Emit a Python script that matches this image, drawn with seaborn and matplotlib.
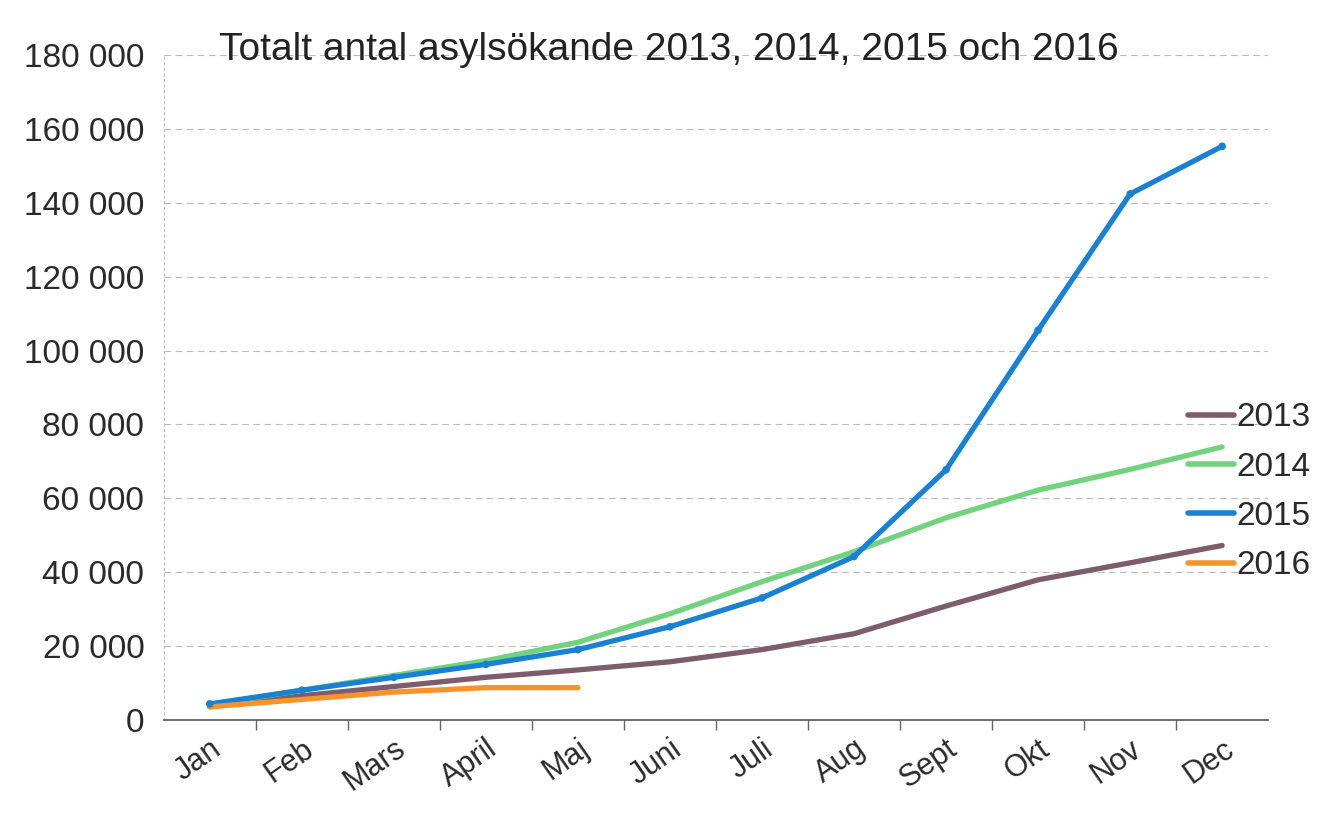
import numpy as np
import pandas as pd
import matplotlib
matplotlib.use("Agg")
import matplotlib.pyplot as plt
import seaborn as sns
from matplotlib.ticker import FuncFormatter, FixedLocator

months = ["Jan", "Feb", "Mars", "April", "Maj", "Juni", "Juli", "Aug", "Sept", "Okt", "Nov", "Dec"]
y2013 = [3500, 6500, 9000, 11500, 13500, 15700, 19000, 23300, 30800, 37900, 42500, 47200]
y2014 = [4000, 8000, 12000, 16000, 21000, 28700, 37400, 45500, 54700, 62200, 67800, 73900]
y2015 = [4300, 8000, 11500, 15000, 19000, 25200, 33000, 44200, 67700, 105500, 142400, 155300]
y2016 = [3500, 5500, 7500, 8700, 8700]
years = ["2013", "2014", "2015", "2016"]
colors = ["#7d5c6c", "#72d27e", "#1a80d2", "#f7932c"]

rows = []
for yr, vals in zip(years, [y2013, y2014, y2015, y2016]):
    for i, v in enumerate(vals):
        rows.append({"Månad": i, "Antal": v, "År": yr})
df = pd.DataFrame(rows)

sns.set_theme(style="white")
plt.rcParams['font.family'] = ['Liberation Sans', 'DejaVu Sans']

fig = plt.figure(figsize=(13.21, 8.35), dpi=100)
ax = fig.add_axes([0.124, 0.138, 0.836, 0.796])

sns.lineplot(data=df, x="Månad", y="Antal", hue="År", palette=dict(zip(years, colors)),
             linewidth=3.8, ax=ax, legend=False, sort=False)
d15 = df[df["År"] == "2015"]
sns.scatterplot(data=d15, x="Månad", y="Antal", color=colors[2], s=30, ax=ax, legend=False, zorder=5, edgecolor="none")

ax.set_xlim(-0.5, 11.5)
ax.set_ylim(0, 180000)
ax.set_yticks(np.arange(0, 180001, 20000))
ax.yaxis.set_major_formatter(FuncFormatter(lambda v, p: f"{int(v):,}".replace(",", "\u00a0")))
ax.set_xticks(range(12))
ax.set_xticklabels(months, rotation=35, ha="right", rotation_mode="anchor")
ax.xaxis.set_minor_locator(FixedLocator(np.arange(0.5, 11.5, 1)))
ax.tick_params(axis="x", which="major", length=0, labelsize=22, pad=10, colors="#2a2a2a")
ax.tick_params(axis="x", which="minor", length=7, width=1, color="#666666", bottom=True)
ax.tick_params(axis="y", labelsize=24, length=0, pad=14, colors="#2a2a2a")
ax.set_xlabel("")
ax.set_ylabel("")

ax.grid(axis="y", color="#bbbbbb", linestyle=(0, (6, 4)), linewidth=0.8)
for s in ["top", "right"]:
    ax.spines[s].set_visible(False)
ax.spines["left"].set_color("#bbbbbb")
ax.spines["left"].set_linestyle((0, (2, 3)))
ax.spines["left"].set_linewidth(0.8)
ax.spines["bottom"].set_color("#555555")
ax.spines["bottom"].set_linewidth(1.2)

ax.set_title("Totalt antal asylsökande 2013, 2014, 2015 och 2016", loc="left",
             fontsize=28, x=0.05, y=0.98, color="#222222")

handles = [plt.Line2D([0], [0], color=c, lw=4) for c in colors]
leg = ax.legend(handles, years, loc="center left", bbox_to_anchor=(0.915, 0.343),
                frameon=False, fontsize=24, handlelength=1.4, handletextpad=0.05,
                labelspacing=0.55, borderaxespad=0)
for t in leg.get_texts():
    t.set_color("#2a2a2a")

fig.savefig("out.png", dpi=100, facecolor="white")
